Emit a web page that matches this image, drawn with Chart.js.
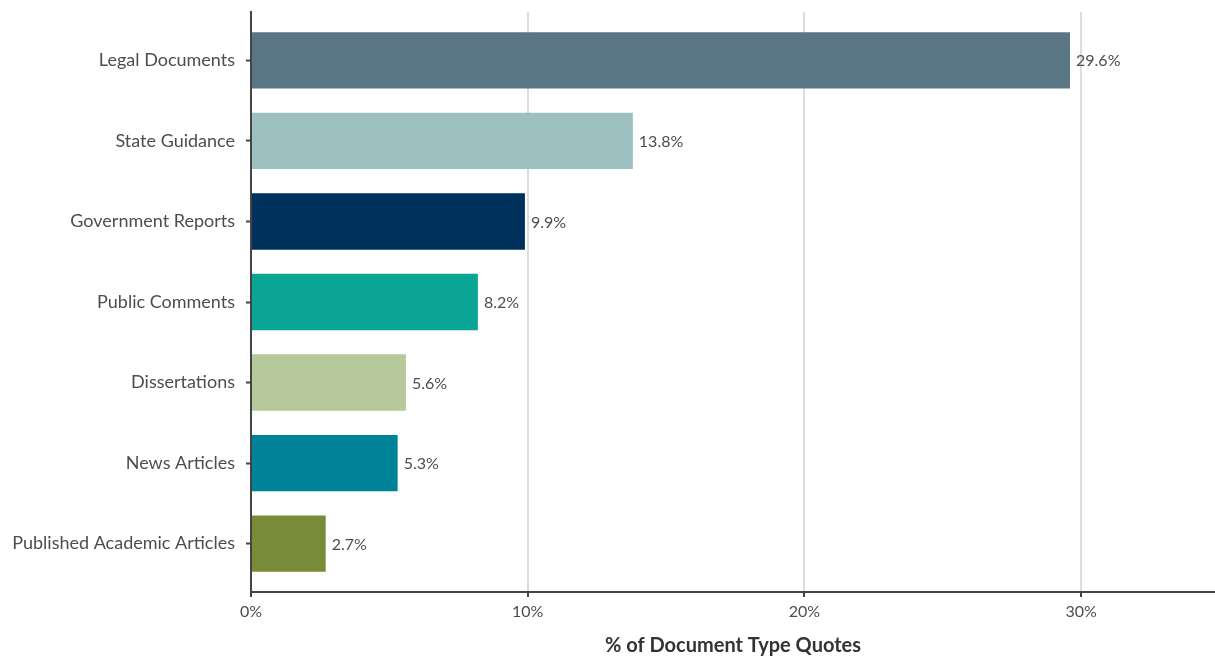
<!DOCTYPE html>
<html>
<head>
<meta charset="utf-8">
<script src="https://cdn.jsdelivr.net/npm/chart.js@4/dist/chart.umd.min.js"></script>
<style>
  html, body { margin: 0; padding: 0; background: #ffffff; }
  #wrap { width: 1215px; height: 658px; position: relative; }
</style>
</head>
<body>
<div id="wrap"><canvas id="chart"></canvas></div>
<script>
// Document types, top to bottom
const categories = [
  'Legal Documents',
  'State Guidance',
  'Government Reports',
  'Public Comments',
  'Dissertations',
  'News Articles',
  'Published Academic Articles'
];

// Share of quotes per document type (%)
const shares = [29.6, 13.8, 9.9, 8.2, 5.6, 5.3, 2.7];

const barColors = ['#5a7684', '#9cbfbf', '#00305c', '#0aa595', '#b5c99b', '#008299', '#788b36'];

const xTicks = [0, 10, 20, 30];
const xTitle = '% of Document Type Quotes';

const FONT = 'Lato, "Noto Sans", sans-serif';
const TEXT = '#4d4d4d';
const AXIS = '#444444';

// value labels printed just past the end of each bar
const valueLabels = {
  id: 'valueLabels',
  afterDatasetsDraw(chart) {
    const ctx = chart.ctx;
    const meta = chart.getDatasetMeta(0);
    ctx.save();
    ctx.font = '16px ' + FONT;
    ctx.fillStyle = TEXT;
    ctx.textAlign = 'left';
    ctx.textBaseline = 'middle';
    meta.data.forEach((bar, i) => {
      ctx.fillText(shares[i].toFixed(1) + '%', bar.x + 6, bar.y + 1);
    });
    ctx.restore();
  }
};

new Chart(document.getElementById('chart'), {
  type: 'bar',
  data: {
    datasets: [{
      data: shares.map((v, i) => ({ x: v, y: i })),
      backgroundColor: barColors,
      borderWidth: 0,
      barPercentage: 0.7,
      categoryPercentage: 1
    }]
  },
  options: {
    indexAxis: 'y',
    responsive: true,
    maintainAspectRatio: false,
    animation: false,
    layout: { padding: { top: 12, right: 0, bottom: 0, left: 0 } },
    plugins: {
      legend: { display: false },
      tooltip: { enabled: false }
    },
    scales: {
      x: {
        type: 'linear',
        min: 0,
        max: 34.84,
        afterBuildTicks(scale) { scale.ticks = xTicks.map(v => ({ value: v })); },
        afterFit(scale) { scale.height = 66; scale.paddingRight = 0; },
        grid: {
          color: '#dddddd',
          lineWidth: 2,
          drawTicks: true,
          tickLength: 5,
          tickColor: AXIS,
          tickWidth: 2
        },
        border: { display: true, color: AXIS, width: 2 },
        ticks: {
          padding: 5,
          color: TEXT,
          font: { family: FONT, size: 16 },
          callback: v => v + '%'
        },
        title: {
          display: true,
          text: xTitle,
          color: '#333333',
          font: { family: FONT, size: 20, weight: 'bold' },
          padding: { top: 3, bottom: 0 }
        }
      },
      y: {
        type: 'linear',
        reverse: true,
        offset: false,
        min: -0.6,
        max: 6.6,
        afterBuildTicks(scale) { scale.ticks = categories.map((c, i) => ({ value: i })); },
        afterFit(scale) {
          scale.width = 251;
          scale.paddingTop = 0;
          scale.paddingBottom = 0;
        },
        grid: {
          offset: false,
          drawOnChartArea: false,
          drawTicks: true,
          tickLength: 5,
          tickColor: AXIS,
          tickWidth: 2
        },
        border: { display: true, color: AXIS, width: 2 },
        ticks: {
          padding: 11,
          color: TEXT,
          font: { family: FONT, size: 18 },
          callback: v => categories[v]
        }
      }
    }
  },
  plugins: [valueLabels]
});
</script>
</body>
</html>
